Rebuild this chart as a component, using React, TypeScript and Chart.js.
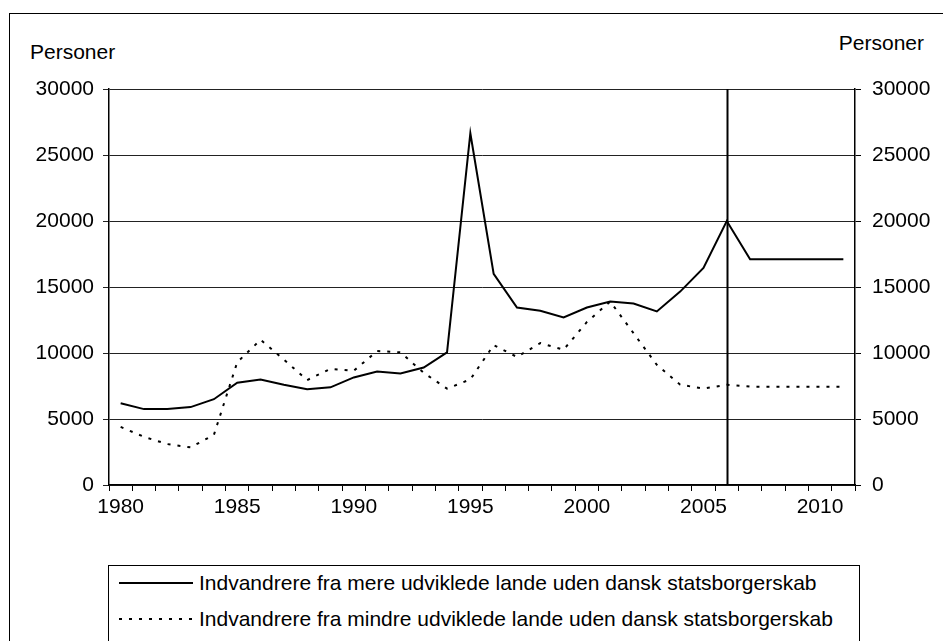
import React, { useEffect, useRef } from "react";
import { Chart, registerables } from "chart.js";

Chart.register(...registerables);

const years: string[] = [
  "1980", "1981", "1982", "1983", "1984", "1985", "1986", "1987", "1988", "1989",
  "1990", "1991", "1992", "1993", "1994", "1995", "1996", "1997", "1998", "1999",
  "2000", "2001", "2002", "2003", "2004", "2005", "2006", "2007", "2008", "2009",
  "2010", "2011",
];

const mereUdviklede: number[] = [
  6200, 5750, 5750, 5900, 6500, 7750, 8000, 7600, 7250, 7400,
  8150, 8600, 8450, 8900, 10050, 26650, 16000, 13450, 13200, 12700,
  13450, 13900, 13750, 13150, 14650, 16450, 20000, 17100, 17100, 17100,
  17100, 17100,
];

const mindreUdviklede: number[] = [
  4400, 3650, 3100, 2850, 3800, 9300, 11000, 9500, 7950, 8800,
  8650, 10150, 10050, 8500, 7300, 8000, 10600, 9700, 10750, 10250,
  12350, 13900, 11500, 9100, 7600, 7300, 7600, 7450, 7450, 7450,
  7450, 7450,
];

const yMin = 0;
const yMax = 30000;
const yStep = 5000;
const labelEvery = 5;
const markerYear = "2006";
const axisTitle = "Personer";
const seriesNames: string[] = [
  "Indvandrere fra mere udviklede lande uden dansk statsborgerskab",
  "Indvandrere fra mindre udviklede lande uden dansk statsborgerskab",
];

const FONT = "'Liberation Sans', Arial, sans-serif";
const FS = 21;

const markerPlugin = {
  id: "markerLine",
  afterDatasetsDraw(chart: any) {
    const x = chart.scales.x;
    const area = chart.chartArea;
    const idx = years.indexOf(markerYear);
    if (idx < 0) return;
    const px = Math.round(x.getPixelForValue(idx)) + 0.5;
    const ctx = chart.ctx;
    ctx.save();
    ctx.strokeStyle = "#000";
    ctx.lineWidth = 2;
    ctx.beginPath();
    ctx.moveTo(px, area.top);
    ctx.lineTo(px, area.bottom);
    ctx.stroke();
    ctx.restore();
  },
};

const plainNumber = (v: any) => String(v);

export default function App() {
  const ref = useRef<HTMLCanvasElement | null>(null);

  useEffect(() => {
    if (!ref.current) return;
    const chart = new Chart(ref.current, {
      type: "line",
      data: {
        labels: years,
        datasets: [
          {
            label: seriesNames[0],
            data: mereUdviklede,
            borderColor: "#000",
            borderWidth: 2,
            pointRadius: 0,
            tension: 0,
            fill: false,
          },
          {
            label: seriesNames[1],
            data: mindreUdviklede,
            borderColor: "#000",
            borderWidth: 2,
            borderDash: [3, 7],
            pointRadius: 0,
            tension: 0,
            fill: false,
          },
        ],
      },
      options: {
        animation: false,
        responsive: false,
        maintainAspectRatio: false,
        events: [],
        layout: { padding: { top: 89, left: 0, right: 0, bottom: 35 } },
        plugins: {
          legend: { display: false },
          title: { display: false },
          tooltip: { enabled: false },
        },
        scales: {
          x: {
            type: "category",
            offset: true,
            grid: {
              offset: true,
              drawOnChartArea: false,
              drawTicks: true,
              tickLength: 6,
              color: "#000",
            },
            border: { display: true, color: "#000", width: 1.5 },
            ticks: {
              autoSkip: false,
              maxRotation: 0,
              minRotation: 0,
              padding: 4,
              color: "#000",
              font: { family: FONT, size: FS },
              callback: (_v: any, i: number) =>
                Number(years[i]) % labelEvery === 0 ? years[i] : "",
            },
            afterFit: (s: any) => {
              s.height = 40;
            },
          },
          y: {
            position: "left",
            min: yMin,
            max: yMax,
            grid: {
              drawOnChartArea: true,
              drawTicks: true,
              tickLength: 6,
              color: "#222",
              lineWidth: 1,
            },
            border: { display: true, color: "#000", width: 1.5 },
            ticks: {
              stepSize: yStep,
              padding: 9,
              color: "#000",
              font: { family: FONT, size: FS },
              callback: plainNumber,
            },
            afterFit: (s: any) => {
              s.width = 109;
            },
          },
          y2: {
            position: "right",
            min: yMin,
            max: yMax,
            grid: {
              drawOnChartArea: false,
              drawTicks: true,
              tickLength: 6,
              color: "#000",
            },
            border: { display: true, color: "#000", width: 1.5 },
            ticks: {
              stepSize: yStep,
              padding: 11,
              color: "#000",
              font: { family: FONT, size: FS },
              callback: plainNumber,
            },
            afterFit: (s: any) => {
              s.width = 88;
            },
          },
        },
      } as any,
      plugins: [markerPlugin],
    });
    return () => chart.destroy();
  }, []);

  const text: React.CSSProperties = {
    position: "absolute",
    fontFamily: FONT,
    fontSize: FS,
    color: "#000",
    whiteSpace: "nowrap",
    lineHeight: "24px",
  };

  return (
    <div
      style={{
        position: "fixed",
        left: 0,
        top: 0,
        width: 943,
        height: 641,
        overflow: "hidden",
        background: "#fff",
      }}
    >
      <div
        style={{
          position: "absolute",
          left: 9,
          top: 13,
          width: 2000,
          height: 2000,
          borderLeft: "1px solid #000",
          borderTop: "1px solid #000",
        }}
      />
      <div style={{ ...text, left: 30, top: 40 }}>{axisTitle}</div>
      <div style={{ ...text, right: 19, top: 31 }}>{axisTitle}</div>
      <canvas
        ref={ref}
        width={943}
        height={560}
        style={{ position: "absolute", left: 0, top: 0, width: 943, height: 560 }}
      />
      <div
        style={{
          position: "absolute",
          left: 108,
          top: 565,
          width: 750,
          height: 200,
          border: "1px solid #000",
          background: "#fff",
        }}
      >
        {seriesNames.map((name, i) => (
          <div
            key={name}
            style={{
              position: "absolute",
              left: 0,
              top: 4 + i * 36,
              height: 26,
              display: "flex",
              alignItems: "center",
            }}
          >
            <div
              style={{
                marginLeft: 10,
                width: 74,
                height: 2,
                background:
                  i === 0
                    ? "#000"
                    : "repeating-linear-gradient(to right, #000 0 3px, transparent 3px 10px)",
              }}
            />
            <span
              style={{
                fontFamily: FONT,
                fontSize: FS,
                color: "#000",
                marginLeft: 6,
                whiteSpace: "nowrap",
              }}
            >
              {name}
            </span>
          </div>
        ))}
      </div>
    </div>
  );
}
